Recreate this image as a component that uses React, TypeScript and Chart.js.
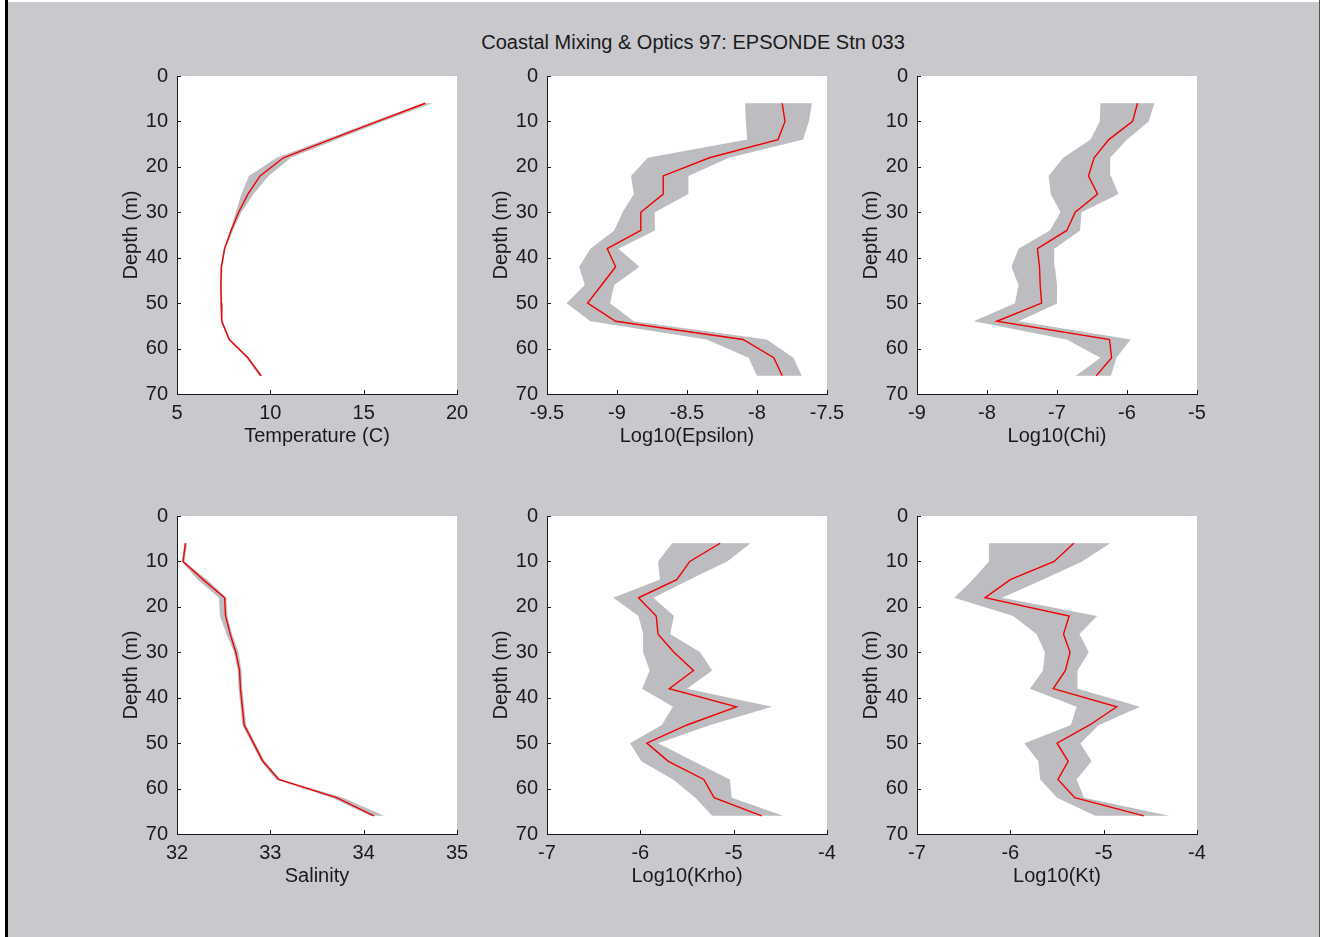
import React, { useEffect, useRef } from 'react';
import { Chart, registerables } from 'chart.js';

Chart.register(...registerables);

// ---------------- data ----------------
const DEPTHS = [6, 10, 14, 18, 22, 26, 30, 34, 38, 42, 46, 50, 54, 58, 62, 66];
const DEPTH_TICKS = [0, 10, 20, 30, 40, 50, 60, 70];

const TEMP = [18.3, 15.75, 13.2, 10.7, 9.45, 8.8, 8.3, 7.9, 7.55, 7.38, 7.35, 7.37, 7.4, 7.8, 8.8, 9.5];
const TEMP_LO = [18.15, 15.5, 12.95, 10.35, 8.85, 8.45, 8.15, 7.85, 7.5, 7.33, 7.3, 7.32, 7.35, 7.75, 8.7, 9.4];
const TEMP_HI = [18.7, 16.0, 13.55, 11.1, 9.9, 9.1, 8.45, 8.0, 7.6, 7.43, 7.4, 7.42, 7.45, 7.85, 8.85, 9.6];

const EPS = [-7.82, -7.8, -7.85, -8.34, -8.67, -8.67, -8.83, -8.83, -9.07, -9.01, -9.11, -9.21, -9.01, -8.1, -7.88, -7.82];
const EPS_LO = [-8.085, -8.08, -8.07, -8.78, -8.9, -8.88, -8.96, -9.02, -9.19, -9.27, -9.23, -9.36, -9.19, -8.36, -8.06, -8.0];
const EPS_HI = [-7.607, -7.63, -7.67, -8.2, -8.49, -8.49, -8.73, -8.73, -8.99, -8.84, -9.02, -9.05, -8.88, -7.93, -7.74, -7.68];

const CHI = [-5.85, -5.92, -6.26, -6.47, -6.55, -6.42, -6.74, -6.86, -7.28, -7.25, -7.24, -7.22, -7.86, -6.25, -6.22, -6.44];
const CHI_LO = [-6.38, -6.39, -6.52, -6.91, -7.12, -7.09, -6.95, -7.1, -7.55, -7.65, -7.55, -7.6, -8.19, -6.86, -6.38, -6.73];
const CHI_HI = [-5.61, -5.69, -6.0, -6.24, -6.23, -6.12, -6.65, -6.67, -7.04, -7.03, -7.0, -6.99, -7.55, -5.95, -6.15, -6.23];

const SAL = [32.09, 32.065, 32.28, 32.51, 32.52, 32.57, 32.63, 32.67, 32.68, 32.7, 32.72, 32.82, 32.92, 33.09, 33.71, 34.11];
const SAL_LO = [32.08, 32.05, 32.22, 32.45, 32.46, 32.53, 32.61, 32.65, 32.66, 32.68, 32.7, 32.8, 32.9, 33.06, 33.66, 34.07];
const SAL_HI = [32.11, 32.08, 32.32, 32.53, 32.54, 32.59, 32.66, 32.69, 32.7, 32.72, 32.74, 32.84, 32.94, 33.11, 33.78, 34.22];

const KRHO = [-5.145, -5.47, -5.61, -6.02, -5.83, -5.81, -5.64, -5.43, -5.69, -4.97, -5.5, -5.93, -5.7, -5.32, -5.21, -4.7];
const KRHO_LO = [-5.66, -5.81, -5.79, -6.29, -6.02, -5.97, -5.97, -5.9, -5.98, -5.65, -5.77, -6.11, -5.99, -5.65, -5.41, -5.23];
const KRHO_HI = [-4.82, -5.07, -5.47, -5.86, -5.64, -5.68, -5.36, -5.23, -5.5, -4.59, -5.25, -5.81, -5.43, -5.04, -5.02, -4.47];

const KT = [-5.32, -5.53, -6.0, -6.27, -5.37, -5.43, -5.36, -5.41, -5.54, -4.86, -5.15, -5.5, -5.38, -5.49, -5.31, -4.57];
const KT_LO = [-6.23, -6.23, -6.4, -6.6, -5.97, -5.72, -5.63, -5.65, -5.79, -5.29, -5.35, -5.85, -5.7, -5.68, -5.5, -5.09];
const KT_HI = [-4.93, -5.23, -5.65, -6.09, -5.07, -5.26, -5.16, -5.28, -5.28, -4.61, -5.05, -5.25, -5.13, -5.29, -5.21, -4.3];

const TITLE = 'Coastal Mixing & Optics 97: EPSONDE Stn 033';
const Y_LABEL = 'Depth (m)';

// ---------------- style ----------------
const FONT = "'Liberation Sans', Arial, Helvetica, sans-serif";
const FIG_BG = '#c9c8cd';
const BAND = '#bdbdc1';
const RED = '#f00000';
const AXIS = '#1a1a1a';
const TEXT = '#1a1a1a';

type PanelCfg = {
  xLabel: string;
  xMin: number;
  xMax: number;
  xStep: number;
  line: number[];
  lo: number[];
  hi: number[];
  left: number;
  top: number;
};

const Y_AXIS_W = 60;
const X_AXIS_H = 60;
const PAD_TOP = 20;
const PAD_RIGHT = 30;
const PLOT_W = 280;
const PLOT_H = 319;
const CANVAS_W = Y_AXIS_W + PLOT_W + PAD_RIGHT;
const CANVAS_H = PAD_TOP + PLOT_H + X_AXIS_H;

const PANELS: PanelCfg[] = [
  { xLabel: 'Temperature (C)', xMin: 5, xMax: 20, xStep: 5, line: TEMP, lo: TEMP_LO, hi: TEMP_HI, left: 177 - Y_AXIS_W, top: 75 - PAD_TOP },
  { xLabel: 'Log10(Epsilon)', xMin: -9.5, xMax: -7.5, xStep: 0.5, line: EPS, lo: EPS_LO, hi: EPS_HI, left: 547 - Y_AXIS_W, top: 75 - PAD_TOP },
  { xLabel: 'Log10(Chi)', xMin: -9, xMax: -5, xStep: 1, line: CHI, lo: CHI_LO, hi: CHI_HI, left: 917 - Y_AXIS_W, top: 75 - PAD_TOP },
  { xLabel: 'Salinity', xMin: 32, xMax: 35, xStep: 1, line: SAL, lo: SAL_LO, hi: SAL_HI, left: 177 - Y_AXIS_W, top: 515 - PAD_TOP },
  { xLabel: 'Log10(Krho)', xMin: -7, xMax: -4, xStep: 1, line: KRHO, lo: KRHO_LO, hi: KRHO_HI, left: 547 - Y_AXIS_W, top: 515 - PAD_TOP },
  { xLabel: 'Log10(Kt)', xMin: -7, xMax: -4, xStep: 1, line: KT, lo: KT_LO, hi: KT_HI, left: 917 - Y_AXIS_W, top: 515 - PAD_TOP },
];

const whiteAreaPlugin = {
  id: 'whiteArea',
  beforeDraw(chart: any) {
    const { ctx, chartArea } = chart;
    ctx.save();
    ctx.fillStyle = '#ffffff';
    ctx.fillRect(chartArea.left, chartArea.top, chartArea.right - chartArea.left, chartArea.bottom - chartArea.top);
    ctx.restore();
  },
};

const inwardTicksPlugin = {
  id: 'inwardTicks',
  afterDraw(chart: any) {
    const { ctx, chartArea, scales } = chart;
    const len = 4;
    ctx.save();
    ctx.strokeStyle = AXIS;
    ctx.lineWidth = 1;
    ctx.beginPath();
    for (const t of scales.x.ticks) {
      const px = Math.round(scales.x.getPixelForValue(t.value)) + 0.5;
      ctx.moveTo(px, chartArea.bottom);
      ctx.lineTo(px, chartArea.bottom - len);
    }
    for (const t of scales.y.ticks) {
      const py = Math.round(scales.y.getPixelForValue(t.value)) + 0.5;
      ctx.moveTo(chartArea.left, py);
      ctx.lineTo(chartArea.left + len, py);
    }
    ctx.stroke();
    ctx.restore();
  },
};

function Panel({ cfg }: { cfg: PanelCfg }) {
  const ref = useRef<HTMLCanvasElement>(null);
  useEffect(() => {
    if (!ref.current) return;
    const linePts = DEPTHS.map((d, i) => ({ x: cfg.line[i], y: d }));
    const bandPts = [
      ...DEPTHS.map((d, i) => ({ x: cfg.lo[i], y: d })),
      ...DEPTHS.map((d, i) => ({ x: cfg.hi[i], y: d })).reverse(),
    ];
    const tickFont = { family: FONT, size: 20 };
    const chart = new Chart(ref.current, {
      type: 'scatter',
      data: {
        datasets: [
          {
            data: linePts,
            showLine: true,
            borderColor: RED,
            borderWidth: 1.4,
            pointRadius: 0,
            fill: false,
          },
          {
            data: bandPts,
            showLine: true,
            borderColor: 'rgba(0,0,0,0)',
            borderWidth: 0,
            backgroundColor: BAND,
            pointRadius: 0,
            fill: 'shape',
          },
        ],
      },
      options: {
        responsive: false,
        maintainAspectRatio: false,
        animation: false,
        devicePixelRatio: 1,
        layout: { padding: { top: PAD_TOP, right: PAD_RIGHT, left: 0, bottom: 0 } },
        plugins: {
          legend: { display: false },
          tooltip: { enabled: false },
          title: { display: false },
        },
        scales: {
          x: {
            type: 'linear',
            min: cfg.xMin,
            max: cfg.xMax,
            ticks: {
              stepSize: cfg.xStep,
              font: tickFont,
              color: TEXT,
              padding: 7,
              maxRotation: 0,
              autoSkip: false,
              callback: (v: any) => String(Math.round(Number(v) * 10) / 10),
            },
            grid: { display: false, drawTicks: false },
            border: { display: true, color: AXIS, width: 1 },
            title: { display: true, text: cfg.xLabel, font: tickFont, color: TEXT, padding: { top: 0, bottom: 6 } },
            afterFit: (s: any) => {
              s.height = X_AXIS_H;
            },
          },
          y: {
            type: 'linear',
            reverse: true,
            min: 0,
            max: 70,
            afterBuildTicks: (s: any) => {
              s.ticks = DEPTH_TICKS.map((v) => ({ value: v }));
            },
            ticks: {
              font: tickFont,
              color: TEXT,
              padding: 9,
              autoSkip: false,
              callback: (v: any) => String(v),
            },
            grid: { display: false, drawTicks: false },
            border: { display: true, color: AXIS, width: 1 },
            title: { display: true, text: Y_LABEL, font: tickFont, color: TEXT, padding: { top: 2, bottom: 0 } },
            afterFit: (s: any) => {
              s.width = Y_AXIS_W;
            },
          },
        },
      } as any,
      plugins: [whiteAreaPlugin, inwardTicksPlugin],
    } as any);
    return () => chart.destroy();
  }, [cfg]);
  return (
    <canvas
      ref={ref}
      width={CANVAS_W}
      height={CANVAS_H}
      style={{ position: 'absolute', left: cfg.left, top: cfg.top, width: CANVAS_W, height: CANVAS_H }}
    />
  );
}

export default function App() {
  return (
    <div style={{ position: 'absolute', left: 0, top: 0, width: 1321, height: 937, background: '#ffffff', overflow: 'hidden' }}>
      <style>{'html,body{margin:0;overflow:hidden;}'}</style>
      <div style={{ position: 'absolute', left: 8, top: 2, width: 1311, height: 935, background: FIG_BG }} />
      <div style={{ position: 'absolute', left: 5, top: 0, width: 3, height: 937, background: '#000000' }} />
      <div style={{ position: 'absolute', left: 1319, top: 0, width: 1, height: 937, background: '#555555' }} />
      <div
        style={{
          position: 'absolute',
          left: 393,
          top: 30,
          width: 600,
          textAlign: 'center',
          fontFamily: FONT,
          fontSize: 20,
          lineHeight: '24px',
          color: TEXT,
          whiteSpace: 'nowrap',
        }}
      >
        {TITLE}
      </div>
      {PANELS.map((p, i) => (
        <Panel key={i} cfg={p} />
      ))}
    </div>
  );
}
